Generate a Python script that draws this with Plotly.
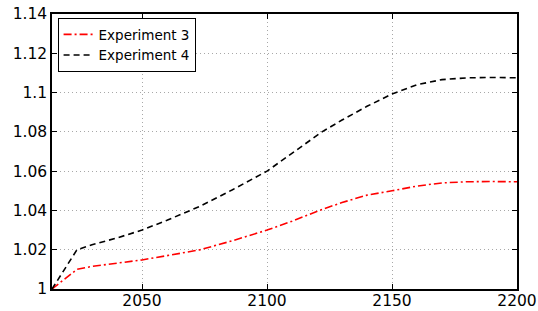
import plotly.graph_objects as go

years = [2014, 2024, 2030, 2040, 2050, 2060, 2073, 2086, 2100, 2110, 2122, 2130, 2140, 2150, 2160, 2170, 2180, 2190, 2200]
exp3 = [1.000, 1.010, 1.0115, 1.0132, 1.0148, 1.0170, 1.0199, 1.0245, 1.0300, 1.0345, 1.0405, 1.0440, 1.0478, 1.0500, 1.0524, 1.0540, 1.0546, 1.0547, 1.0546]
exp4 = [1.000, 1.020, 1.0225, 1.0260, 1.0300, 1.0350, 1.0420, 1.0504, 1.0600, 1.0690, 1.0800, 1.0860, 1.0930, 1.0993, 1.1040, 1.1066, 1.1075, 1.1077, 1.1075]

xticks = [2050, 2100, 2150, 2200]
yticks = [1.0, 1.02, 1.04, 1.06, 1.08, 1.10, 1.12, 1.14]
yticklabels = ["1", "1.02", "1.04", "1.06", "1.08", "1.1", "1.12", "1.14"]

fig = go.Figure()
fig.add_trace(go.Scatter(x=years, y=exp3, mode="lines", name="Experiment 3",
                         line=dict(color="#ff0000", width=1.6, dash="8px,3px,2px,3px")))
fig.add_trace(go.Scatter(x=years, y=exp4, mode="lines", name="Experiment 4",
                         line=dict(color="#000000", width=1.6, dash="6px,4px")))

font = dict(family="DejaVu Sans", size=15.5, color="black")
fig.update_layout(
    width=538, height=311,
    margin=dict(l=52, r=21, t=14, b=22, autoexpand=False),
    paper_bgcolor="white", plot_bgcolor="white",
    font=font,
    showlegend=True,
    legend=dict(x=0.012, y=0.985, xanchor="left", yanchor="top",
                bordercolor="black", borderwidth=1, bgcolor="white",
                font=dict(family="DejaVu Sans", size=13.5, color="black"),
                tracegroupgap=0, itemwidth=30),
)
grid = dict(showgrid=True, gridcolor="#a8a8a8", griddash="1px,3px", gridwidth=1)
fig.update_xaxes(range=[2014, 2200], tickvals=xticks, ticktext=[str(v) for v in xticks],
                 showline=True, linecolor="black", linewidth=1.5, mirror="ticks",
                 ticks="inside", ticklen=5, tickcolor="black", automargin=False,
                 ticklabelstandoff=-3,
                 zeroline=False, tickfont=font, **grid)
fig.update_yaxes(range=[1.0, 1.14], tickvals=yticks, ticktext=yticklabels,
                 showline=True, linecolor="black", linewidth=1.5, mirror="ticks",
                 ticks="inside", ticklen=5, tickcolor="black", automargin=False,
                 zeroline=False, tickfont=font, **grid)

fig.write_html("out.html", config={"displayModeBar": False},
               post_script="document.body.style.margin='0';document.body.style.overflow='hidden';")
